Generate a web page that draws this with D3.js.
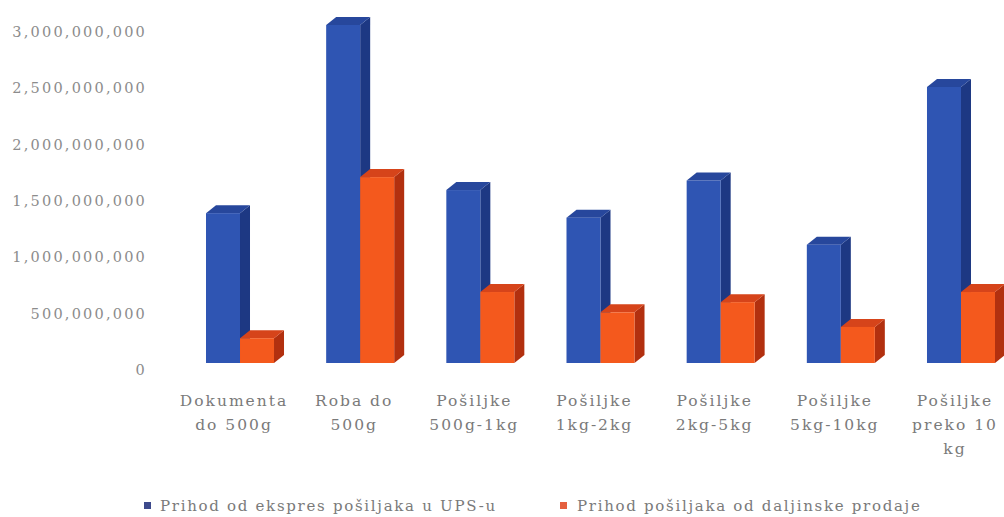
<!DOCTYPE html>
<html>
<head>
<meta charset="utf-8">
<script src="https://cdn.jsdelivr.net/npm/d3@7"></script>
<style>
  body { margin: 0; background: #fff; }
  svg { display: block; }
</style>
</head>
<body>
<div id="chart"></div>
<script>
// Data
const categories = ["Dokumenta do 500g", "Roba do 500g", "Pošiljke 500g-1kg", "Pošiljke 1kg-2kg",
    "Pošiljke 2kg-5kg", "Pošiljke 5kg-10kg", "Pošiljke preko 10 kg"];
const labelLines = [["Dokumenta", "do 500g"], ["Roba do", "500g"], ["Pošiljke", "500g-1kg"],
    ["Pošiljke", "1kg-2kg"], ["Pošiljke", "2kg-5kg"], ["Pošiljke", "5kg-10kg"], ["Pošiljke", "preko 10", "kg"]];
const seriesNames = ["Prihod od ekspres pošiljaka u UPS-u", "Prihod pošiljaka od daljinske prodaje"];
const upsValues = [1330000000, 3000000000, 1535000000, 1290000000, 1620000000, 1050000000, 2450000000];
const remoteValues = [220000000, 1650000000, 630000000, 450000000, 540000000, 320000000, 630000000];
const yTicks = [0, 500000000, 1000000000, 1500000000, 2000000000, 2500000000, 3000000000];

const W = 1004, H = 517;
const depthX = 10, depthY = 8;

// colours: front, side, top
const palette = [
    { front: "#2f55b3", side: "#1d3883", top: "#27479c", legend: "#3d4a8c" },
    { front: "#f4591d", side: "#b2300f", top: "#d6441a", legend: "#e5603f" }
];

const svg = d3.select("#chart").append("svg")
    .attr("width", W)
    .attr("height", H);

const y = d3.scaleLinear()
    .domain([0, 3000000000])
    .range([363, 25]);

const x = d3.scaleBand()
    .domain(categories)
    .range([206, 995])
    .paddingInner(0.434)
    .paddingOuter(0);

const xs = d3.scaleBand()
    .domain([0, 1])
    .range([0, x.bandwidth()]);

// Y axis labels only
const yAxis = svg.append("g")
    .attr("transform", "translate(149,7)")
    .call(d3.axisLeft(y).tickValues(yTicks).tickFormat(d3.format(",")).tickSize(0).tickPadding(2));
yAxis.select(".domain").remove();
yAxis.selectAll("text")
    .attr("font-family", "DejaVu Serif")
    .attr("font-size", 14.5)
    .attr("letter-spacing", 2.2)
    .attr("fill", "#8c8c8c");

// flatten into bar records
const bars = [];
categories.forEach((c, i) => {
    bars.push({ cat: c, s: 0, v: upsValues[i] });
    bars.push({ cat: c, s: 1, v: remoteValues[i] });
});

const g = svg.append("g");
const bar = g.selectAll("g.bar")
    .data(bars)
    .enter()
    .append("g")
    .attr("class", "bar");

// side face
bar.append("path")
    .attr("d", d => {
        const x1 = x(d.cat) + xs(d.s) + xs.bandwidth();
        const yt = y(d.v), yb = y(0);
        return `M${x1},${yt}L${x1 + depthX},${yt - depthY}L${x1 + depthX},${yb - depthY}L${x1},${yb}Z`;
    })
    .attr("fill", d => palette[d.s].side);

// top face
bar.append("path")
    .attr("d", d => {
        const x0 = x(d.cat) + xs(d.s), x1 = x0 + xs.bandwidth();
        const yt = y(d.v);
        return `M${x0},${yt}L${x0 + depthX},${yt - depthY}L${x1 + depthX},${yt - depthY}L${x1},${yt}Z`;
    })
    .attr("fill", d => palette[d.s].top);

// front face
bar.append("rect")
    .attr("x", d => x(d.cat) + xs(d.s))
    .attr("y", d => y(d.v))
    .attr("width", xs.bandwidth())
    .attr("height", d => y(0) - y(d.v))
    .attr("fill", d => palette[d.s].front);

// category labels
const lbl = svg.append("g").selectAll("text")
    .data(categories)
    .enter()
    .append("text")
    .attr("text-anchor", "middle")
    .attr("font-family", "DejaVu Serif")
    .attr("font-size", 15.5)
    .attr("letter-spacing", 2)
    .attr("fill", "#7a7a7a");
lbl.each(function(c, i) {
    const cx = x(c) + x.bandwidth() / 2 - 6;
    d3.select(this).selectAll("tspan")
        .data(labelLines[i])
        .enter()
        .append("tspan")
        .attr("x", cx)
        .attr("y", (t, j) => 406 + j * 24)
        .text(t => t);
});

// legend
const legendX = [144, 560];
const leg = svg.append("g").selectAll("g")
    .data(seriesNames)
    .enter()
    .append("g")
    .attr("transform", (d, i) => `translate(${legendX[i]},0)`);
leg.append("rect")
    .attr("x", 0)
    .attr("y", 502)
    .attr("width", 7)
    .attr("height", 7)
    .attr("fill", (d, i) => palette[i].legend);
leg.append("text")
    .attr("x", (d, i) => i === 0 ? 16 : 17)
    .attr("y", 511)
    .attr("font-family", "DejaVu Serif")
    .attr("font-size", 15)
    .attr("letter-spacing", 1.7)
    .attr("fill", "#7a7a7a")
    .text(d => d);
</script>
</body>
</html>
